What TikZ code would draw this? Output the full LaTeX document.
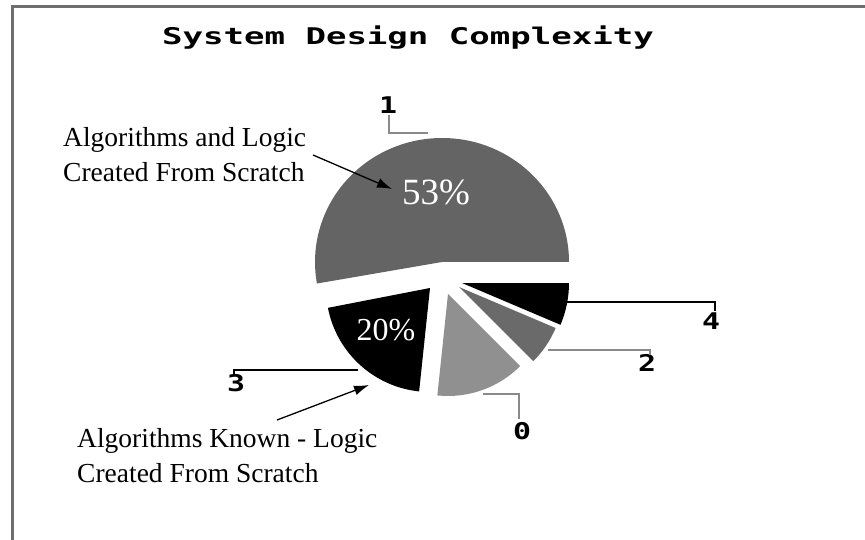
\documentclass[tikz,border=0pt]{standalone}
\usepackage{fontspec}
\usepackage{graphicx}
\setmainfont{Liberation Serif}
\newfontfamily\pixfont{DejaVu Sans Mono}[BoldFont={DejaVu Sans Mono Bold}]
\usetikzlibrary{arrows.meta}
\definecolor{framegray}{HTML}{6E6E6E}
\definecolor{sliceA}{HTML}{646464}
\definecolor{sliceB}{HTML}{909090}
\definecolor{sliceC}{HTML}{6A6A6A}
\definecolor{leadgray}{HTML}{8A8A8A}
\tikzset{
  pixlabel/.style={inner sep=0pt, font=\pixfont\bfseries\fontsize{23}{25}\selectfont},
  annot/.style={inner sep=0pt, anchor=base west, align=left, font=\fontsize{27.5}{35}\selectfont},
  pct/.style={inner sep=0pt, anchor=base, text=white},
  leaderblack/.style={draw=black, line width=2.5pt},
  leadergray/.style={draw=leadgray, line width=2.2pt},
  pointer/.style={draw=black, line width=1.3pt, -{Latex[length=15pt,width=10pt]}},
}
\begin{document}
\begin{tikzpicture}[x=1pt,y=-1pt]
\useasboundingbox (0,0) rectangle (865,540);
\fill[white] (0,0) rectangle (865,540);
% frame
\draw[framegray, line width=3pt] (12,540) -- (12,7) -- (865,7);
% title
\node[pixlabel, anchor=base] (title) at (408,45) {\scalebox{1.48}[1]{System Design Complexity}};
% pie vertices
\coordinate (v1) at (442,262);
\coordinate (v3) at (430,288);
\coordinate (v0) at (448,294);
\coordinate (v2) at (459,287);
\coordinate (v4) at (462,283);
% slices
\fill[sliceA] (v1) -- ++(127,0) arc[start angle=0, end angle=-190, x radius=127, y radius=124] -- cycle;
\fill[black] (v3) -- ++(-191:104) arc[start angle=-191, end angle=-264, radius=104] -- cycle;
\fill[sliceB] (v0) -- ++(-264:102) arc[start angle=-264, end angle=-315, radius=102] -- cycle;
\fill[sliceC] (v2) -- ++(-315:105) arc[start angle=-315, end angle=-337, radius=105] -- cycle;
\fill[black] (v4) -- ++(-337:107) arc[start angle=-337, end angle=-360, radius=107] -- cycle;
% percentages
\node[pct, font=\fontsize{37}{40}\selectfont] (p53) at (436,205) {53\%};
\node[pct, font=\fontsize{32}{36}\selectfont] (p20) at (386,340) {20\%};
% slice labels and leaders
\node[pixlabel] (l1) at (388,105) {\scalebox{1.3}[1]{1}};
\node[pixlabel] (l3) at (236,383) {\scalebox{1.3}[1]{3}};
\node[pixlabel] (l4) at (711,321) {\scalebox{1.3}[1]{4}};
\node[pixlabel] (l2) at (647,363) {\scalebox{1.3}[1]{2}};
\node[pixlabel] (l0) at (522,431) {\scalebox{1.3}[1]{0}};
\draw[leadergray] (389,115) -- (389,133) -- (428,133);
\draw[leaderblack] (358,370) -- (234,370) -- (234,375);
\draw[leaderblack] (566,302) -- (715,302) -- (715,311);
\draw[leadergray] (548,350) -- (650,350) -- (650,355);
\draw[leadergray] (483,394) -- (519,394) -- (519,419);
% annotations (anchor at baseline of the last line)
\node[annot] (t1) at (63,182) {Algorithms and Logic\\Created From Scratch};
\node[annot] (t2) at (77,482) {Algorithms Known - Logic\\Created From Scratch};
\coordinate (a1s) at (313,155);
\coordinate (a1e) at (392,189);
\coordinate (a2s) at (277,420);
\coordinate (a2e) at (369,385);
\draw[pointer] (a1s) -- (a1e);
\draw[pointer] (a2s) -- (a2e);
\end{tikzpicture}
\end{document}
